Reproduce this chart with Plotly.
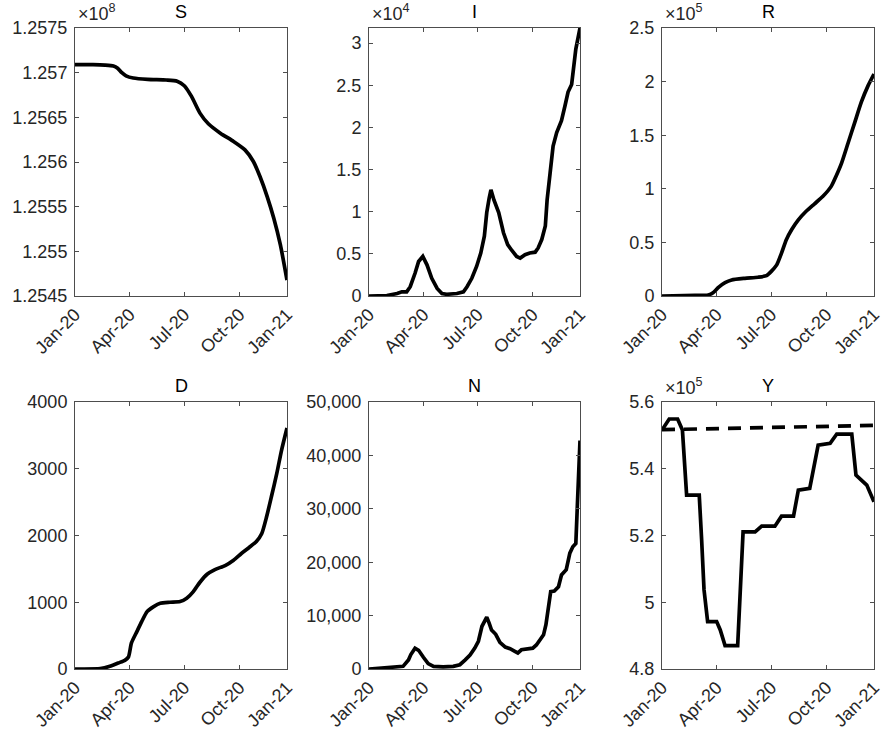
import plotly.graph_objects as go

# ---------------- data ----------------
S_dates = ["2020-01-01", "2020-01-31", "2020-02-20", "2020-03-05", "2020-03-12", "2020-03-19",
           "2020-03-26", "2020-04-07", "2020-05-01", "2020-06-01", "2020-06-19", "2020-07-01",
           "2020-07-13", "2020-07-27", "2020-08-10", "2020-08-30", "2020-09-21", "2020-10-10",
           "2020-10-24", "2020-11-04", "2020-11-16", "2020-11-27", "2020-12-08", "2020-12-19"]
S_vals = [125709000, 125709000, 125708500, 125707500, 125705000, 125700000,
          125696500, 125694000, 125692500, 125691800, 125690500, 125685400,
          125673400, 125654700, 125642800, 125632300, 125623000, 125613600,
          125600600, 125583700, 125561300, 125537000, 125507200, 125467800]

I_dates = ["2020-01-01", "2020-01-31", "2020-02-17", "2020-02-25", "2020-03-04", "2020-03-10",
           "2020-03-18", "2020-03-24", "2020-03-31", "2020-04-07", "2020-04-15", "2020-04-24",
           "2020-05-02", "2020-05-10", "2020-05-27", "2020-06-07", "2020-06-13", "2020-06-21",
           "2020-06-29", "2020-07-06", "2020-07-12", "2020-07-16", "2020-07-20", "2020-07-23",
           "2020-07-28", "2020-08-05", "2020-08-13", "2020-08-20", "2020-08-27", "2020-09-04",
           "2020-09-10", "2020-09-18", "2020-09-26", "2020-10-05", "2020-10-10", "2020-10-16",
           "2020-10-22", "2020-10-25", "2020-10-30", "2020-11-04", "2020-11-10", "2020-11-18",
           "2020-11-24", "2020-11-29", "2020-12-05", "2020-12-08", "2020-12-12", "2020-12-19"]
I_vals = [0, 50, 300, 500, 500, 1100,
          2700, 4100, 4700, 3700, 2100, 900,
          300, 200, 300, 500, 1100, 2100,
          3500, 5100, 7100, 9900, 11600, 12600,
          11400, 9900, 7500, 6100, 5400, 4700,
          4500, 4900, 5100, 5200, 5700, 6700,
          8300, 11400, 14600, 17800, 19400, 20800,
          22600, 24200, 25100, 26700, 29300, 31800]

R_dates = ["2020-01-01", "2020-02-25", "2020-03-18", "2020-03-26", "2020-04-04", "2020-04-15",
           "2020-04-26", "2020-05-18", "2020-06-09", "2020-06-23", "2020-07-01", "2020-07-10",
           "2020-07-18", "2020-07-26", "2020-08-04", "2020-08-15", "2020-08-28", "2020-09-11",
           "2020-09-25", "2020-10-09", "2020-10-17", "2020-10-26", "2020-11-06", "2020-11-17",
           "2020-11-28", "2020-12-09", "2020-12-19"]
R_vals = [0, 500, 1000, 3000, 8000, 12500,
          15000, 16500, 17500, 19000, 23000, 29000,
          40000, 52500, 62000, 71000, 79000, 86000,
          93000, 102500, 112000, 124000, 143000, 162000,
          181000, 196000, 207000]

D_dates = ["2020-01-01", "2020-02-12", "2020-02-28", "2020-03-13", "2020-03-24", "2020-03-30",
           "2020-04-04", "2020-04-13", "2020-04-21", "2020-04-30", "2020-05-11", "2020-05-22",
           "2020-06-07", "2020-06-24", "2020-07-05", "2020-07-16", "2020-07-27", "2020-08-08",
           "2020-08-21", "2020-09-07", "2020-09-21", "2020-10-04", "2020-10-17", "2020-10-29",
           "2020-11-07", "2020-11-15", "2020-11-23", "2020-12-02", "2020-12-10", "2020-12-19"]
D_vals = [0, 5, 40, 90, 130, 180,
          390, 560, 710, 860, 935, 985,
          1000, 1010, 1060, 1160, 1300, 1420,
          1490, 1550, 1630, 1730, 1820, 1910,
          2030, 2280, 2580, 2930, 3280, 3610]

N_dates = ["2020-01-01", "2020-02-05", "2020-02-16", "2020-02-27", "2020-03-07", "2020-03-11",
           "2020-03-18", "2020-03-24", "2020-04-01", "2020-04-09", "2020-04-18", "2020-05-04",
           "2020-05-21", "2020-06-01", "2020-06-10", "2020-06-18", "2020-06-26", "2020-07-02",
           "2020-07-08", "2020-07-12", "2020-07-16", "2020-07-20", "2020-07-24", "2020-07-31",
           "2020-08-07", "2020-08-16", "2020-08-24", "2020-09-01", "2020-09-06", "2020-09-12",
           "2020-09-21", "2020-10-01", "2020-10-07", "2020-10-14", "2020-10-19", "2020-10-23",
           "2020-10-27", "2020-10-31", "2020-11-06", "2020-11-13", "2020-11-18", "2020-11-26",
           "2020-12-02", "2020-12-07", "2020-12-12", "2020-12-16", "2020-12-19"]
N_vals = [0, 300, 500, 500, 1700, 2700,
          3900, 3500, 2200, 1000, 500, 400,
          500, 800, 1700, 2600, 3900, 5200,
          8000, 8900, 9700, 8600, 7300, 6500,
          5000, 4100, 3800, 3300, 3000, 3600,
          3700, 3900, 4500, 5500, 6400, 8300,
          11400, 14500, 14600, 15400, 17600, 18600,
          21700, 22900, 23500, 35400, 42800]

Y_dates = ["2020-01-01", "2020-01-13", "2020-01-27", "2020-02-04", "2020-02-11", "2020-03-03",
           "2020-03-07", "2020-03-11", "2020-03-17", "2020-04-01", "2020-04-07", "2020-04-15",
           "2020-05-06", "2020-05-10", "2020-05-14", "2020-05-15", "2020-06-04", "2020-06-15",
           "2020-07-07", "2020-07-18", "2020-08-07", "2020-08-15", "2020-09-03", "2020-09-17",
           "2020-10-07", "2020-10-18", "2020-11-12", "2020-11-19", "2020-12-07", "2020-12-19"]
Y_vals = [551600, 554900, 554900, 551600, 532100, 532100,
          518700, 503700, 494200, 494200, 491700, 487000,
          487000, 500700, 518000, 521100, 521100, 522800,
          522800, 525800, 525800, 533600, 534100, 547100,
          547600, 550400, 550400, 538100, 535100, 530100]

Ytrend_dates = ["2020-01-01", "2020-12-19"]
Ytrend_vals = [551700, 553000]

titles = ["S", "I", "R", "D", "N", "Y"]
x_tickvals = ["2020-01-01", "2020-04-01", "2020-07-01", "2020-10-01", "2020-12-19"]
x_ticktext = ["Jan-20", "Apr-20", "Jul-20", "Oct-20", "Jan-21"]

S_ticks = [125450000, 125500000, 125550000, 125600000, 125650000, 125700000, 125750000]
S_ticktext = ["1.2545", "1.255", "1.2555", "1.256", "1.2565", "1.257", "1.2575"]
I_ticks = [0, 5000, 10000, 15000, 20000, 25000, 30000]
I_ticktext = ["0", "0.5", "1", "1.5", "2", "2.5", "3"]
R_ticks = [0, 50000, 100000, 150000, 200000, 250000]
R_ticktext = ["0", "0.5", "1", "1.5", "2", "2.5"]
D_ticks = [0, 1000, 2000, 3000, 4000]
D_ticktext = ["0", "1000", "2000", "3000", "4000"]
N_ticks = [0, 10000, 20000, 30000, 40000, 50000]
N_ticktext = ["0", "10,000", "20,000", "30,000", "40,000", "50,000"]
Y_ticks = [480000, 500000, 520000, 540000, 560000]
Y_ticktext = ["4.8", "5", "5.2", "5.4", "5.6"]

# ---------------- figure ----------------
W, H = 885, 733
FONT = "Liberation Sans, Arial, Helvetica, sans-serif"
TXT = "#262626"

# axis boxes in window pixels
xdoms = [(75, 287), (369, 580), (662, 874)]
ydoms = [(28, 296), (402, 669)]


def px(v):
    return v / W


def py(v):
    return 1 - v / H


panels = [
    dict(x=S_dates, y=S_vals, shape="spline", rng=[125450000, 125750000], tv=S_ticks, tt=S_ticktext, exp="8"),
    dict(x=I_dates, y=I_vals, shape="linear", rng=[0, max(I_vals)], tv=I_ticks, tt=I_ticktext, exp="4"),
    dict(x=R_dates, y=R_vals, shape="spline", rng=[0, 250000], tv=R_ticks, tt=R_ticktext, exp="5"),
    dict(x=D_dates, y=D_vals, shape="spline", rng=[0, 4000], tv=D_ticks, tt=D_ticktext, exp=None),
    dict(x=N_dates, y=N_vals, shape="linear", rng=[0, 50000], tv=N_ticks, tt=N_ticktext, exp=None),
    dict(x=Y_dates, y=Y_vals, shape="linear", rng=[480000, 560000], tv=Y_ticks, tt=Y_ticktext, exp="5"),
]

fig = go.Figure()
annotations = []
layout = {}
for k, p in enumerate(panels):
    r, c = divmod(k, 3)
    idx = "" if k == 0 else str(k + 1)
    xa, ya = "x" + idx, "y" + idx
    x0, x1 = xdoms[c]
    y0, y1 = ydoms[r]
    fig.add_trace(go.Scatter(x=p["x"], y=p["y"], mode="lines", xaxis=xa, yaxis=ya,
                             line=dict(color="black", width=3.7, shape=p["shape"],
                                       smoothing=0.6 if p["shape"] == "spline" else None),
                             showlegend=False, hoverinfo="skip"))
    if k == 5:
        fig.add_trace(go.Scatter(x=Ytrend_dates, y=Ytrend_vals, mode="lines", xaxis=xa, yaxis=ya,
                                 line=dict(color="black", width=3.7, dash="13px,9px"),
                                 showlegend=False, hoverinfo="skip"))
    common = dict(showline=True, linecolor="#4d4d4d", linewidth=1, mirror="ticks",
                  ticks="inside", ticklen=4, tickcolor="#4d4d4d", tickwidth=1,
                  showgrid=False, zeroline=False, automargin=False,
                  tickfont=dict(family=FONT, size=18, color=TXT))
    layout["xaxis" + idx] = dict(common, type="date", domain=[px(x0), px(x1)],
                                 range=["2020-01-01", "2020-12-19"], anchor=ya,
                                 tickmode="array", tickvals=x_tickvals, ticktext=x_ticktext,
                                 tickangle=-45)
    layout["yaxis" + idx] = dict(common, domain=[py(y1), py(y0)], range=p["rng"],
                                 anchor=xa, tickmode="array", tickvals=p["tv"], ticktext=p["tt"],
                                 ticklabelstandoff=3)
    annotations.append(dict(text=titles[k], x=px((x0 + x1) / 2), y=py(y0 - 4),
                            xref="paper", yref="paper", xanchor="center", yanchor="bottom",
                            showarrow=False, font=dict(family=FONT, size=18, color="black")))
    if p["exp"]:
        annotations.append(dict(text="×10<sup>" + p["exp"] + "</sup>", x=px(x0 + 1),
                                y=py(y0 - 2), xref="paper", yref="paper",
                                xanchor="left", yanchor="bottom", showarrow=False,
                                font=dict(family=FONT, size=18, color=TXT)))

fig.update_layout(**layout)
fig.update_layout(width=W, height=H, margin=dict(l=0, r=0, t=0, b=0),
                  paper_bgcolor="white", plot_bgcolor="white",
                  annotations=annotations, font=dict(family=FONT, color=TXT))
fig.write_html("out.html", config={"displayModeBar": False},
               post_script="document.body.style.margin='0px';")
